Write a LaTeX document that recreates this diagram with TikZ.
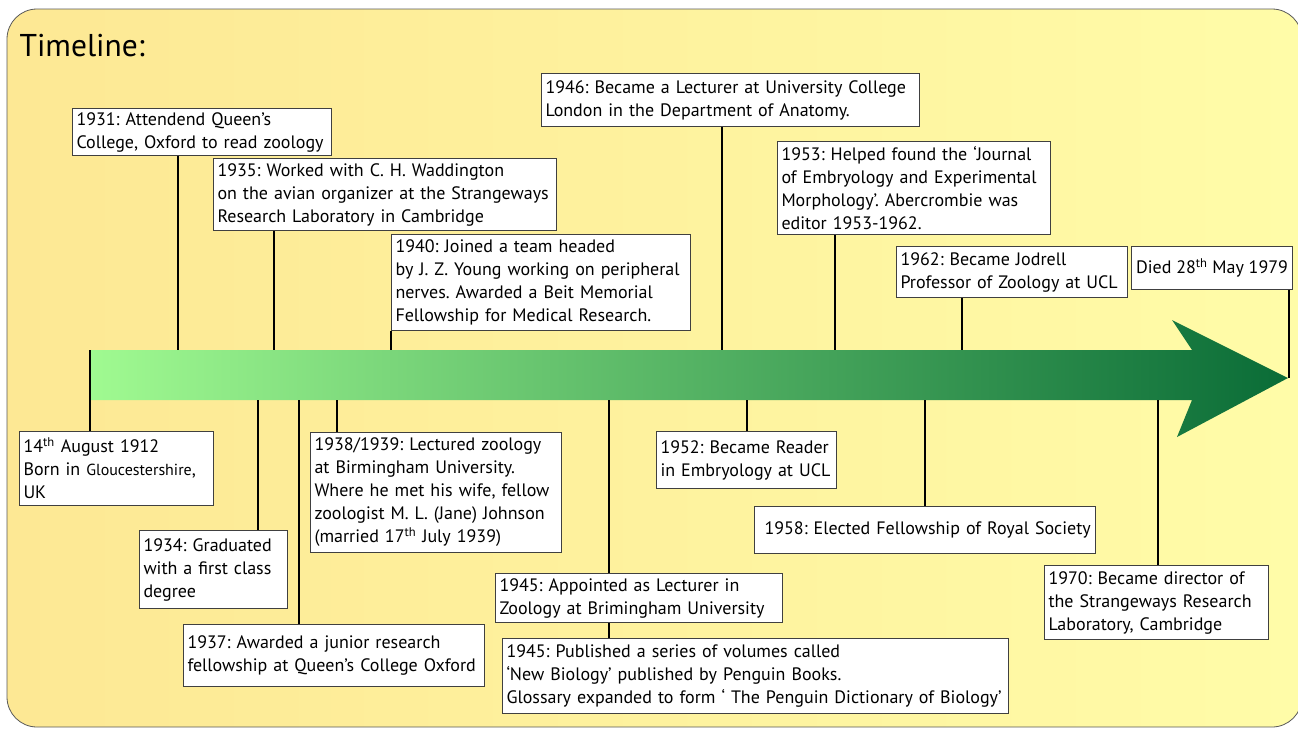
\documentclass[tikz,border=0pt]{standalone}
\usepackage{fontspec}
\setmainfont{PT Sans}
\usetikzlibrary{positioning}
\definecolor{bgleft}{RGB}{253,232,148}
\definecolor{bgright}{RGB}{255,252,168}
\definecolor{arrowleft}{RGB}{160,250,145}
\definecolor{arrowright}{RGB}{10,108,55}
\frenchspacing

\begin{document}
\begin{tikzpicture}[x=1pt, y=-1pt,
  event/.style={draw=black!75, fill=white, line width=1pt, anchor=north west,
    align=left, inner xsep=4pt, inner ysep=2pt,
    font=\fontsize{18}{23}\selectfont},
  stem/.style={line width=1.8pt, black},
]
\useasboundingbox (0,0) rectangle (1298,729);
% background panel
\draw[draw=black!65, line width=0.8pt, left color=bgleft, right color=bgright,
  rounded corners=30pt] (7,9) rectangle (1302,727);
\node[anchor=base west, font=\fontsize{31.5}{32}\selectfont] (title) at (16,56) {Timeline:};

% the time arrow
\shade[left color=arrowleft, right color=arrowright]
  (90,350) -- (1192,350) -- (1172,320) -- (1288,378) -- (1177,437)
  -- (1192,400) -- (90,400) -- cycle;

% anchor points on the arrow
\coordinate (t1912) at (90,350);
\coordinate (t1931) at (178,350);
\coordinate (t1935) at (274,350);
\coordinate (t1940) at (391,350);
\coordinate (t1946) at (722,350);
\coordinate (t1953) at (835,350);
\coordinate (t1962) at (962,350);
\coordinate (tdied) at (1289,378);
\coordinate (u1934) at (258,400);
\coordinate (u1937) at (299,400);
\coordinate (u1938) at (337,400);
\coordinate (u1945) at (609,400);
\coordinate (u1952) at (747,400);
\coordinate (u1958) at (925,400);
\coordinate (u1970) at (1158,400);

% events above
\node[event, text width=251pt, minimum height=47pt] (b1931) at (72,108)
  {1931: Attendend Queen’s\\College, Oxford to read zoology};
\node[event, text width=335pt, minimum height=72pt] (b1935) at (213,158)
  {1935: Worked with C. H. Waddington\\on the avian organizer at the Strangeways\\Research Laboratory in Cambridge};
\node[event, text width=291pt, minimum height=96pt] (b1940) at (391,234)
  {1940: Joined a team headed\\by J. Z. Young working on peripheral\\nerves. Awarded a Beit Memorial\\Fellowship for Medical Research.};
\node[event, text width=370pt, minimum height=53pt] (b1946) at (541,73)
  {1946: Became a Lecturer at University College\\London in the Department of Anatomy.};
\node[event, text width=265pt, minimum height=93pt] (b1953) at (777,141)
  {1953: Helped found the ‘Journal\\of Embryology and Experimental\\Morphology’. Abercrombie was\\editor 1953-1962.};
\node[event, text width=223pt, minimum height=51pt] (b1962) at (896,246)
  {1962: Became Jodrell\\Professor of Zoology at UCL};
\node[event, minimum width=161pt, minimum height=43pt] (bdied) at (1131,246)
  {Died 28\textsuperscript{th} May 1979};

% events below
\node[event, text width=186pt, minimum height=74pt] (b1912) at (19,431)
  {14\textsuperscript{th} August 1912\\Born in {\fontsize{16}{23}\selectfont Gloucestershire},\\UK};
\node[event, text width=140pt, minimum height=78pt] (b1934) at (139,530)
  {1934: Graduated\\with a first class\\degree};
\node[event, text width=293pt, minimum height=62pt] (b1937) at (183,624)
  {1937: Awarded a junior research\\fellowship at Queen’s College Oxford};
\node[event, text width=243pt, minimum height=120pt] (b1938) at (310,432)
  {1938/1939: Lectured zoology\\at Birmingham University.\\Where he met his wife, fellow\\zoologist M. L. (Jane) Johnson\\(married 17\textsuperscript{th} July 1939)};
\node[event, text width=279pt, minimum height=49pt] (b1945a) at (495,573)
  {1945: Appointed as Lecturer in\\Zoology at Brimingham University};
\node[event, text width=498pt, minimum height=75pt] (b1945b) at (502,638)
  {1945: Published a series of volumes called\\‘New Biology’ published by Penguin Books.\\Glossary expanded to form ‘ The Penguin Dictionary of Biology’};
\node[event, text width=172pt, minimum height=57pt] (b1952) at (656,431)
  {1952: Became Reader\\in Embryology at UCL};
\node[event, text width=333pt, minimum height=47pt] (b1958) at (754,506)
  {\hspace{6pt}1958: Elected Fellowship of Royal Society};
\node[event, text width=216pt, minimum height=74pt] (b1970) at (1044,565)
  {1970: Became director of\\the Strangeways Research\\Laboratory, Cambridge};

% stems
\draw[stem] (b1931.south -| t1931) -- (t1931);
\draw[stem] (b1935.south -| t1935) -- (t1935);
\draw[stem] (b1940.south -| t1940) -- (t1940);
\draw[stem] (b1946.south -| t1946) -- (t1946);
\draw[stem] (b1953.south -| t1953) -- (t1953);
\draw[stem] (b1962.south -| t1962) -- (t1962);
\draw[stem] (bdied.south -| tdied) -- (tdied);
\draw[stem] (t1912) -- (t1912 |- b1912.north);
\draw[stem] (u1934) -- (u1934 |- b1934.north);
\draw[stem] (u1937) -- (u1937 |- b1937.north);
\draw[stem] (u1938) -- (u1938 |- b1938.north);
\draw[stem] (u1945) -- (u1945 |- b1945a.north);
\draw[stem] (b1945a.south -| u1945) -- (b1945b.north -| u1945);
\draw[stem] (u1952) -- (u1952 |- b1952.north);
\draw[stem] (u1958) -- (u1958 |- b1958.north);
\draw[stem] (u1970) -- (u1970 |- b1970.north);
\end{tikzpicture}
\end{document}
